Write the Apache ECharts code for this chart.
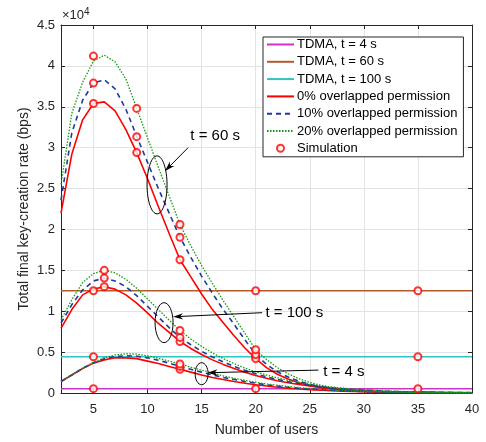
<!DOCTYPE html>
<html>
<head>
<meta charset="utf-8">
<script src="https://cdn.jsdelivr.net/npm/echarts@6/dist/echarts.min.js"></script>
<style>
html,body{margin:0;padding:0;background:#fff}
#main{width:486px;height:442px}
</style>
</head>
<body>
<div id="main"></div>
<script>
// number of users (x axis)
var users = [2,3,4,5,6,7,8,9,10,11,12,13,14,15,16,17,18,19,20,21,22,23,24,25,26,27,28,29,30,31,32,33,34,35,36,37,38,39,40];
var xTicks = [5,10,15,20,25,30,35,40];

// key-creation rate, in units of 1e4 bps
var p0_t60  = [2.2,2.92,3.34,3.54,3.56,3.45,3.22,2.94,2.62,2.28,1.95,1.63,1.42,1.21,1.02,0.86,0.70,0.55,0.42,0.31,0.23,0.17,0.125,0.09,0.065,0.048,0.035,0.026,0.019,0.014,0.01,0.008,0.006,0.005,0.004,0.003,0.002,0.002,0.001];
var p10_t60 = [2.36,3.18,3.58,3.79,3.83,3.72,3.47,3.14,2.82,2.5,2.2,1.905,1.66,1.43,1.22,1.02,0.84,0.65,0.47,0.35,0.26,0.195,0.145,0.105,0.077,0.056,0.041,0.03,0.022,0.016,0.012,0.009,0.007,0.005,0.004,0.003,0.002,0.002,0.001];
var p20_t60 = [2.55,3.42,3.8,4.06,4.13,4.05,3.84,3.48,3.12,2.76,2.41,2.06,1.8,1.56,1.34,1.13,0.93,0.73,0.53,0.41,0.31,0.235,0.175,0.13,0.095,0.07,0.051,0.037,0.027,0.02,0.015,0.011,0.008,0.006,0.005,0.004,0.003,0.002,0.002];

var p0_t100  = [0.79,1.02,1.2,1.27,1.30,1.27,1.2,1.1,0.98,0.85,0.74,0.63,0.545,0.47,0.405,0.35,0.3,0.255,0.215,0.18,0.15,0.125,0.103,0.085,0.07,0.057,0.046,0.037,0.03,0.024,0.019,0.015,0.012,0.01,0.008,0.006,0.005,0.004,0.003];
var p10_t100 = [0.855,1.08,1.26,1.37,1.405,1.37,1.3,1.19,1.06,0.93,0.8,0.68,0.59,0.51,0.44,0.38,0.325,0.277,0.235,0.198,0.166,0.139,0.116,0.096,0.079,0.065,0.053,0.043,0.035,0.028,0.022,0.018,0.014,0.011,0.009,0.007,0.006,0.005,0.004];
var p20_t100 = [0.895,1.14,1.35,1.46,1.50,1.47,1.39,1.28,1.15,1.02,0.89,0.765,0.66,0.57,0.49,0.42,0.36,0.305,0.26,0.22,0.185,0.155,0.13,0.108,0.089,0.073,0.06,0.049,0.04,0.032,0.026,0.021,0.017,0.013,0.011,0.009,0.007,0.005,0.004];

var p0_t4  = [0.14,0.22,0.3,0.365,0.405,0.43,0.43,0.42,0.39,0.36,0.325,0.29,0.255,0.22,0.19,0.165,0.14,0.12,0.1,0.085,0.07,0.058,0.048,0.04,0.033,0.027,0.022,0.018,0.015,0.012,0.01,0.008,0.007,0.006,0.005,0.004,0.003,0.003,0.002];
var p10_t4 = [0.14,0.22,0.3,0.37,0.42,0.445,0.455,0.45,0.43,0.4,0.365,0.325,0.29,0.255,0.22,0.19,0.165,0.14,0.12,0.1,0.085,0.07,0.058,0.048,0.04,0.033,0.027,0.022,0.018,0.015,0.012,0.01,0.008,0.007,0.006,0.005,0.004,0.003,0.003];
var p20_t4 = [0.14,0.225,0.305,0.375,0.43,0.465,0.48,0.475,0.455,0.425,0.39,0.355,0.315,0.28,0.245,0.21,0.18,0.155,0.13,0.11,0.095,0.08,0.066,0.055,0.045,0.037,0.03,0.025,0.02,0.016,0.013,0.011,0.009,0.007,0.006,0.005,0.004,0.003,0.003];

// TDMA constant rates
var tdma_t4 = 0.053, tdma_t60 = 1.25, tdma_t100 = 0.443;

// simulation points
var simX = [5,20,35, 5,20,35, 5,20,35, 5,5,5, 9,9,9, 13,13,13, 20,20,20, 6,6,6, 13,13,13, 13,13,13];
var simY = [0.053,0.053,0.053, 1.25,1.25,1.25, 0.443,0.443,0.443,
            3.54,3.79,4.12, 2.94,3.135,3.48, 1.63,1.905,2.06, 0.42,0.47,0.53,
            1.30,1.405,1.50, 0.63,0.68,0.765, 0.29,0.325,0.355];

var FONT = 'Liberation Sans, Arial, Helvetica, sans-serif';
var AX = '#262626';

function pairs(ys){ return users.map(function(u,i){ return [u, ys[i]]; }); }
function flat(v){ return [[users[0], v],[users[users.length-1], v]]; }

function curve(name, ys, color, type, w){
    return {name:name, type:'line', data:pairs(ys), symbol:'none', z:3,
        lineStyle:{color:color, width:w, type:type}, itemStyle:{color:color}};
}
function hline(name, v, color){
    return {name:name, type:'line', data:flat(v), symbol:'none', z:2,
        lineStyle:{color:color, width:1.5}, itemStyle:{color:color}};
}

var RED='#ff0000', BLUE='#1f3b9e', GREEN='#139a13';
var chart = echarts.init(document.getElementById('main'));

// legend entries: lines show no marker, simulation shows only the hollow circle
var lineNames = ['TDMA, t = 4 s','TDMA, t = 60 s','TDMA, t = 100 s','0% overlapped permission','10% overlapped permission','20% overlapped permission'];
var legendData = lineNames.map(function(n){
    return {name:n, itemStyle:{color:'rgba(0,0,0,0)', borderColor:'rgba(0,0,0,0)', borderWidth:0}};
});
legendData.push({name:'Simulation', icon:'emptyCircle'});

var option = {
    animation:false,
    backgroundColor:'#fff',
    textStyle:{fontFamily:FONT},
    grid:{left:61, right:14, top:25, bottom:49, containLabel:false},
    legend:{
        orient:'vertical', left:263, top:37,
        padding:[1,6,2,3], itemGap:4.3, itemWidth:27, itemHeight:7,
        backgroundColor:'#fff', borderColor:AX, borderWidth:1, borderRadius:0,
        textStyle:{fontSize:13, color:'#000', fontFamily:FONT, padding:[0,0,0,-2]},
        data:legendData
    },
    xAxis:[{
        type:'value', min:2, max:40, position:'bottom',
        name:'Number of users', nameLocation:'middle', nameGap:30,
        nameTextStyle:{fontSize:14, color:AX, fontFamily:FONT},
        axisLine:{show:true, onZero:false, lineStyle:{color:AX, width:1}},
        axisTick:{show:true, inside:true, length:4, customValues:xTicks, lineStyle:{color:AX}},
        axisLabel:{customValues:xTicks, fontSize:13, color:AX, margin:10, fontFamily:FONT},
        splitLine:{show:true, lineStyle:{color:'#e3e3e3', width:1}}
    },{
        type:'value', min:2, max:40, position:'top',
        axisLine:{show:true, onZero:false, lineStyle:{color:AX, width:1}},
        axisTick:{show:true, inside:true, length:4, customValues:xTicks, lineStyle:{color:AX}},
        axisLabel:{show:false}, splitLine:{show:false}
    }],
    yAxis:[{
        type:'value', min:0, max:4.5, interval:0.5, position:'left',
        name:'Total final key-creation rate (bps)', nameLocation:'middle', nameGap:30,
        nameMoveOverlap:false,
        nameTextStyle:{fontSize:14, color:AX, fontFamily:FONT},
        axisLine:{show:true, onZero:false, lineStyle:{color:AX, width:1}},
        axisTick:{show:true, inside:true, length:4, lineStyle:{color:AX}},
        axisLabel:{fontSize:13, color:AX, margin:6, fontFamily:FONT},
        splitLine:{show:true, lineStyle:{color:'#e3e3e3', width:1}}
    },{
        type:'value', min:0, max:4.5, interval:0.5, position:'right',
        axisLine:{show:true, onZero:false, lineStyle:{color:AX, width:1}},
        axisTick:{show:true, inside:true, length:4, lineStyle:{color:AX}},
        axisLabel:{show:false}, splitLine:{show:false}
    }],
    series:[
        hline('TDMA, t = 4 s', tdma_t4, '#cc33cc'),
        hline('TDMA, t = 60 s', tdma_t60, '#b35a2b'),
        hline('TDMA, t = 100 s', tdma_t100, '#2ec4c4'),
        curve('0% overlapped permission', p0_t60, RED, 'solid', 1.6),
        curve('0% overlapped permission', p0_t100, RED, 'solid', 1.6),
        curve('0% overlapped permission', p0_t4, RED, 'solid', 1.6),
        curve('10% overlapped permission', p10_t60, BLUE, [5,4], 1.6),
        curve('10% overlapped permission', p10_t100, BLUE, [5,4], 1.6),
        curve('10% overlapped permission', p10_t4, BLUE, [5,4], 1.6),
        curve('20% overlapped permission', p20_t60, GREEN, [1.5,1.5], 1.3),
        curve('20% overlapped permission', p20_t100, GREEN, [1.5,1.5], 1.3),
        curve('20% overlapped permission', p20_t4, GREEN, [1.5,1.5], 1.3),
        {name:'Simulation', type:'scatter', z:5, symbol:'emptyCircle', symbolSize:7,
         data:simX.map(function(x,i){ return [x, simY[i]]; }),
         itemStyle:{color:RED, borderColor:RED, borderWidth:1}}
    ]
};
chart.setOption(option);

// annotations: ellipse around a curve group, arrow from label to ellipse
var notes = [
    {text:'t = 60 s', c:[10.88,2.545], rx:10, ry:29, from:[13.75,3.0], to:[11.62,2.715], at:[16.25,3.14], align:'center'},
    {text:'t = 100 s', c:[11.53,0.86], rx:9, ry:20, from:[20.6,0.982], to:[12.36,0.932], at:[20.9,0.982], align:'left'},
    {text:'t = 4 s', c:[15.0,0.236], rx:6.5, ry:11, from:[25.8,0.28], to:[15.55,0.248], at:[26.25,0.26], align:'left'}
];
function toPx(p){ return chart.convertToPixel({xAxisIndex:0, yAxisIndex:0}, p); }
var g = [];
notes.forEach(function(n){
    var c = toPx(n.c), a = toPx(n.from), b = toPx(n.to), t = toPx(n.at);
    g.push({type:'ellipse', shape:{cx:c[0], cy:c[1], rx:n.rx, ry:n.ry}, style:{fill:'none', stroke:'#000', lineWidth:1}, z:10});
    var dx = b[0]-a[0], dy = b[1]-a[1], L = Math.sqrt(dx*dx+dy*dy), ux = dx/L, uy = dy/L;
    var hl = 10, hw = 3.2;
    var bx = b[0]-ux*hl, by = b[1]-uy*hl;
    g.push({type:'line', shape:{x1:a[0], y1:a[1], x2:b[0]-ux*5, y2:b[1]-uy*5}, style:{stroke:'#000', lineWidth:1}, z:10});
    g.push({type:'polygon', shape:{points:[[b[0],b[1]],[bx-uy*hw, by+ux*hw],[b[0]-ux*7, b[1]-uy*7],[bx+uy*hw, by-ux*hw]]}, style:{fill:'#000'}, z:10});
    g.push({type:'text', x:t[0], y:t[1], z:10, style:{text:n.text, fill:'#000', fontSize:15, fontFamily:FONT, align:n.align, verticalAlign:'middle'}});
});
// axis exponent label
g.push({type:'text', left:62, top:7, style:{rich:{b:{fontSize:13, fill:AX, fontFamily:FONT}, s:{fontSize:10, fill:AX, fontFamily:FONT, verticalAlign:'top', padding:[0,0,6,0]}}, text:'{b|×10}{s|4}'}});
chart.setOption({graphic:g});
</script>
</body>
</html>
